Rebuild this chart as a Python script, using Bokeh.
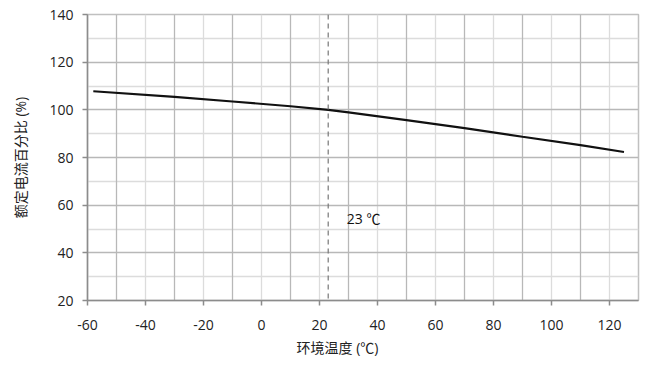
from bokeh.plotting import figure
from bokeh.models import Range1d, FixedTicker, Grid, Span, Label, Title
from bokeh.embed import file_html
from bokeh.resources import INLINE

# Data
temp_c = [-58, -30, -10, 10, 23, 30, 50, 70, 90, 110, 125]
rated_pct = [107.8, 105.4, 103.5, 101.5, 100.0, 98.9, 95.7, 92.3, 88.7, 85.2, 82.3]

x_ticks = [-60, -40, -20, 0, 20, 40, 60, 80, 100, 120]
x_odd_lines = [-50, -30, -10, 10, 30, 50, 70, 90, 110]
y_ticks = [20, 40, 60, 80, 100, 120, 140]
y_minor_lines = [30, 50, 70, 90, 110, 130]
ref_temp = 23
ref_label = "23 ℃"
x_title = "环境温度 (℃)"
y_title = "额定电流百分比 (%)"

FONT = "'Open Sans', 'Noto Sans CJK SC', sans-serif"

p = figure(width=662, height=374, output_backend="svg", toolbar_location=None,
           x_range=Range1d(-60, 130), y_range=Range1d(20, 140),
           min_border_left=87, min_border_right=24, min_border_top=14, min_border_bottom=74)
p.outline_line_color = "#c0c0c0"
p.outline_line_width = 1.5
p.background_fill_color = "white"
p.border_fill_color = "white"

p.xgrid.visible = False
p.ygrid.visible = False

g1 = Grid(dimension=0, ticker=FixedTicker(ticks=x_odd_lines), grid_line_color="#b8b8b8", grid_line_width=1.3)
g2 = Grid(dimension=0, ticker=FixedTicker(ticks=x_ticks), grid_line_color="#dcdcdc", grid_line_width=1.3)
g3 = Grid(dimension=1, ticker=FixedTicker(ticks=y_ticks), grid_line_color="#b8b8b8", grid_line_width=1.3)
g4 = Grid(dimension=1, ticker=FixedTicker(ticks=y_minor_lines), grid_line_color="#dcdcdc", grid_line_width=1.3)
for g in (g2, g4, g1, g3):
    p.add_layout(g)

for ax, ticks in ((p.xaxis[0], x_ticks), (p.yaxis[0], y_ticks)):
    ax.ticker = FixedTicker(ticks=ticks)
    ax.major_label_overrides = {t: str(t) for t in ticks}
    ax.minor_tick_line_color = None
    ax.major_tick_in = 0
    ax.major_tick_out = 5
    ax.axis_line_color = "#8c8c8c"
    ax.axis_line_width = 1.5
    ax.major_tick_line_color = "#8c8c8c"
    ax.major_tick_line_width = 1.5
    ax.major_label_text_font = FONT
    ax.major_label_text_font_size = "14px"
    ax.major_label_text_color = "#222222"
    ax.axis_label_text_font = FONT
    ax.axis_label_text_font_size = "14px"
    ax.axis_label_text_font_style = "normal"
    ax.axis_label_text_color = "#222222"

p.yaxis.axis_label = y_title
p.xaxis.major_label_standoff = 14
p.yaxis.major_label_standoff = 9
p.yaxis.axis_label_standoff = 16

# x-axis title, placed left of the frame centre as in the reference
p.add_layout(Title(text=x_title, align="left", offset=209, standoff=6,
                   text_font=FONT, text_font_size="14px", text_font_style="normal",
                   text_color="#222222"), "below")

p.add_layout(Span(location=ref_temp, dimension="height", line_color="#777777",
                  line_dash="5 4", line_width=1.2))

p.line(temp_c, rated_pct, line_color="#111111", line_width=2.2)

p.add_layout(Label(x=ref_temp + 6.4, y=50.5, text=ref_label, text_font=FONT,
                   text_font_size="14px", text_color="#111111"))

open("out.html", "w").write(file_html(p, INLINE))
